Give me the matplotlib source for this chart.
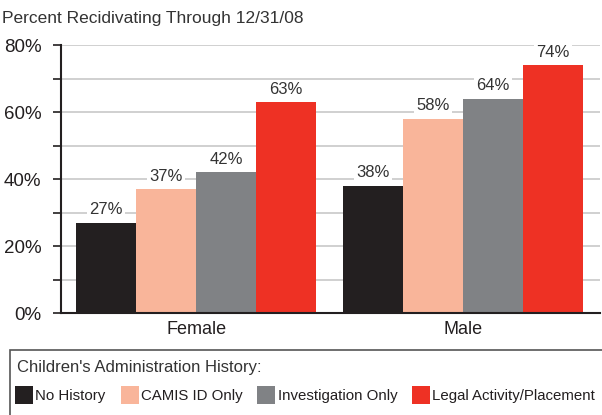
import matplotlib
matplotlib.use("Agg")
import matplotlib.pyplot as plt
from matplotlib.patches import Rectangle
from matplotlib.ticker import MultipleLocator, FuncFormatter

plt.rcParams['font.family'] = ['Liberation Sans', 'DejaVu Sans']

groups = ['Female', 'Male']
series = ['No History', 'CAMIS ID Only', 'Investigation Only', 'Legal Activity/Placement']
female = [27, 37, 42, 63]
male = [38, 58, 64, 74]
colors = ['#231f20', '#f9b59a', '#808285', '#ee3124']
values = [female, male]

fig = plt.figure(figsize=(6.02, 4.15), dpi=100)
ax = fig.add_axes([61 / 602, 1 - 313 / 415, 539 / 602, 268 / 415])

width = 0.225
for i, name in enumerate(series):
    xs = [g + (i - 1.5) * width for g in range(len(groups))]
    vals = [values[g][i] for g in range(len(groups))]
    ax.bar(xs, vals, width=width, color=colors[i], label=name, zorder=2)
    for x, v in zip(xs, vals):
        ax.text(x, v + 1.6, f'{v}%', ha='center', va='bottom', fontsize=12,
                color='#333333', zorder=3,
                bbox=dict(facecolor='white', edgecolor='none', pad=1.5))

ax.set_ylim(0, 80)
ax.set_xlim(-0.506, 1.513)
ax.yaxis.set_major_locator(MultipleLocator(20))
ax.yaxis.set_minor_locator(MultipleLocator(10))
ax.yaxis.set_major_formatter(FuncFormatter(lambda v, p: f'{int(v)}%'))
ax.grid(axis='y', which='both', color='#c8c8c8', linewidth=1.2, zorder=0)
ax.set_axisbelow(True)
ax.set_xticks(range(len(groups)))
ax.set_xticklabels(groups)
ax.tick_params(axis='x', length=0, labelsize=13, pad=6, colors='#231f20')
ax.tick_params(axis='y', which='both', length=6, width=1.2, labelsize=13.5,
               pad=8, colors='#231f20')
for s in ['top', 'right']:
    ax.spines[s].set_visible(False)
for s in ['left', 'bottom']:
    ax.spines[s].set_color('#231f20')
    ax.spines[s].set_linewidth(1.5)

fig.text(2 / 602, 1 - 18 / 415, 'Percent Recidivating Through 12/31/08',
         fontsize=12.5, color='#333333', va='center', ha='left')

# legend box
fig.patches.append(Rectangle((10 / 602, -0.05), 0.99, 1 - 350 / 415 + 0.05,
                             transform=fig.transFigure, facecolor='none',
                             edgecolor='#555555', linewidth=1.2))
fig.text(17 / 602, 1 - 367 / 415, "Children's Administration History:",
         fontsize=12, color='#333333', va='center', ha='left')
handles, labels = ax.get_legend_handles_labels()
leg = fig.legend(handles, labels, loc='center left', ncol=4,
                 bbox_to_anchor=(15 / 602, 1 - 395 / 415), frameon=False,
                 fontsize=10.8, handlelength=1.2, handleheight=1.45,
                 handletextpad=0.15, columnspacing=1.0, borderpad=0,
                 borderaxespad=0)
for t in leg.get_texts():
    t.set_color('#231f20')

fig.savefig('out.png', dpi=100)
